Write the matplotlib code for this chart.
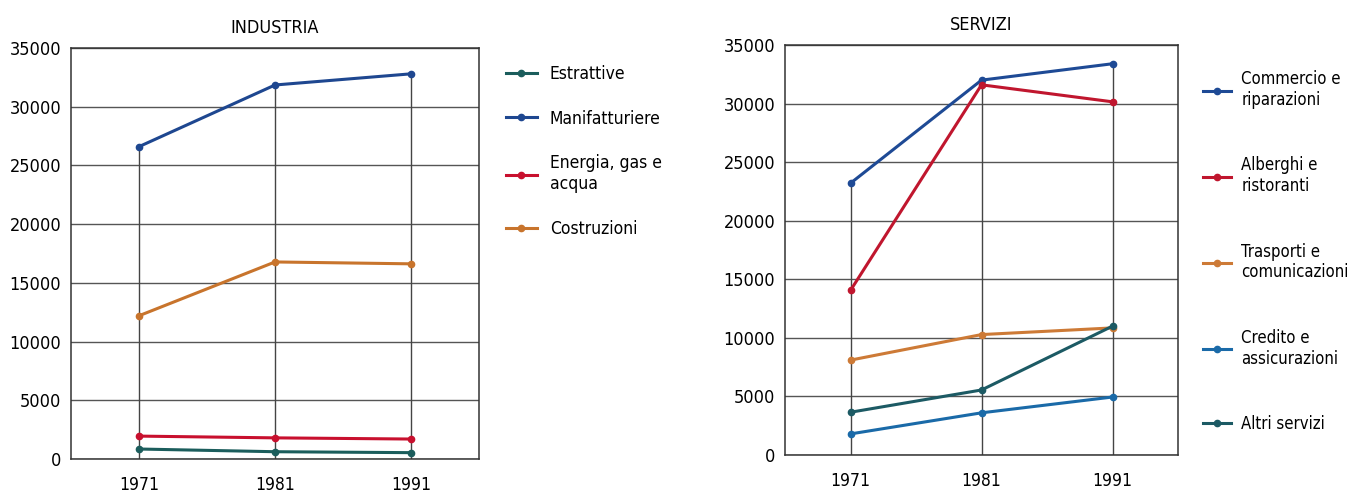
import numpy as np
from matplotlib import pyplot as plt

plt.rcParams['font.family'] = ['DejaVu Sans']
plt.rcParams['font.stretch'] = 'condensed'

anni = [1971, 1981, 1991]

# INDUSTRIA
estrattive = [850, 620, 540]
manifatturiere = [26600, 31850, 32800]
energia = [1950, 1800, 1700]
costruzioni = [12200, 16780, 16620]

# SERVIZI
commercio = [23200, 32000, 33400]
alberghi = [14050, 31600, 30150]
trasporti = [8100, 10280, 10850]
credito = [1800, 3600, 4950]
altri = [3650, 5550, 11000]

ind_serie = [estrattive, manifatturiere, energia, costruzioni]
ind_nomi = ['Estrattive', 'Manifatturiere', 'Energia, gas e\nacqua', 'Costruzioni']
ind_colori = ['#1b5d5c', '#1e4790', '#c8102e', '#c8742c']

ser_serie = [commercio, alberghi, trasporti, credito, altri]
ser_nomi = ['Commercio e\nriparazioni', 'Alberghi e\nristoranti', 'Trasporti e\ncomunicazioni',
            'Credito e\nassicurazioni', 'Altri servizi']
ser_colori = ['#1e4a95', '#c0162e', '#cd7a36', '#1a6aa8', '#1c5a64']

fig = plt.figure(figsize=(13.49, 4.94), dpi=100)
ax1 = fig.add_axes([71 / 1349, 1 - 459 / 494, 408 / 1349, 411 / 494])
ax2 = fig.add_axes([785 / 1349, 1 - 455 / 494, 393 / 1349, 410 / 494])


def pannello(ax, serie, nomi, colori, titolo):
    top = np.max(np.array(serie), axis=0)
    ax.vlines(anni, 0, top, color='#444444', lw=1.0, zorder=1)
    linee = []
    for s, n, c in zip(serie, nomi, colori):
        l, = ax.plot(anni, s, color=c, lw=2.2, marker='o', ms=4.5, label=n, zorder=3)
        linee.append(l)
    ax.set_xlim(1966, 1996)
    ax.set_ylim(0, 35000)
    ax.set_yticks(np.arange(0, 35001, 5000))
    ax.set_xticks(anni)
    ax.yaxis.grid(True, color='#555555', lw=1.0)
    ax.set_axisbelow(True)
    ax.tick_params(axis='y', length=0, labelsize=13, pad=7)
    ax.tick_params(axis='x', length=0, labelsize=12.5, pad=12)
    for sp in ax.spines.values():
        sp.set_color('#333333')
        sp.set_linewidth(1.1)
    ax.set_title(titolo, fontsize=13, pad=11)
    return linee


l1 = pannello(ax1, ind_serie, ind_nomi, ind_colori, 'INDUSTRIA')
l2 = pannello(ax2, ser_serie, ser_nomi, ser_colori, 'SERVIZI')

fig.legend(handles=l1, loc='upper left', bbox_to_anchor=(490 / 1349, 1 - 49 / 494),
           frameon=False, fontsize=12.5, handlelength=1.8, labelspacing=1.55, handletextpad=0.75)
fig.legend(handles=l2, loc='upper left', bbox_to_anchor=(1188 / 1349, 1 - 55 / 494),
           frameon=False, fontsize=12, handlelength=1.7, labelspacing=2.85, handletextpad=0.6)

plt.savefig('out.png', dpi=100)
